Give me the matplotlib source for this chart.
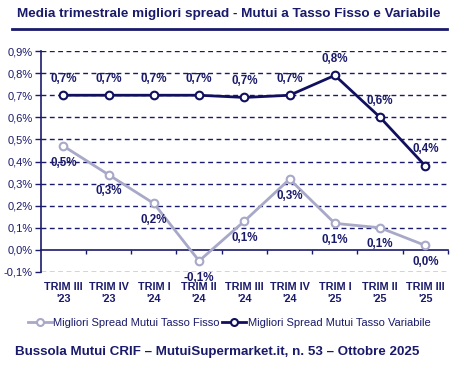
import numpy as np
import matplotlib.pyplot as plt
from matplotlib.lines import Line2D

plt.rcParams['font.family'] = ['Liberation Sans', 'DejaVu Sans']

# dati (in %)
trimestri = ["TRIM III\n'23", "TRIM IV\n'23", "TRIM I\n'24", "TRIM II\n'24", "TRIM III\n'24",
             "TRIM IV\n'24", "TRIM I\n'25", "TRIM II\n'25", "TRIM III\n'25"]
fisso = [0.47, 0.34, 0.21, -0.05, 0.13, 0.32, 0.12, 0.10, 0.02]
variabile = [0.70, 0.70, 0.70, 0.70, 0.69, 0.70, 0.79, 0.60, 0.38]

navy = '#1a1a6b'
c_var = '#10105e'
c_fix = '#a8a8c8'

fig = plt.figure(figsize=(4.58, 3.7), dpi=100)
ax = fig.add_axes([0.089, 0.265, 0.889, 0.597])

x = np.arange(len(trimestri))
ax.plot(x, fisso, color=c_fix, lw=2, marker='o', ms=5.5, mfc='white', mec=c_fix, mew=1.5, zorder=3)
ax.plot(x, variabile, color=c_var, lw=2, marker='o', ms=5.5, mfc='white', mec=c_var, mew=1.5, zorder=4)

# etichette
for i in range(len(x)):
    ax.annotate(f"{fisso[i]:.1f}%".replace('.', ','), (x[i], fisso[i]), xytext=(0, -12),
                textcoords='offset points', ha='center', va='center',
                fontsize=8.4, fontweight='bold', color=navy, zorder=5)
    ax.annotate(f"{variabile[i]:.1f}%".replace('.', ','), (x[i], variabile[i]), xytext=(0, 12),
                textcoords='offset points', ha='center', va='center',
                fontsize=8.4, fontweight='bold', color=navy, zorder=5)

ax.set_xlim(-0.5, len(x) - 0.5)
ax.set_ylim(-0.1, 0.9)
yt = np.arange(-0.1, 0.91, 0.1)
ax.set_yticks(yt)
ax.set_yticklabels([f"{v:.1f}%".replace('.', ',') for v in yt], fontsize=8, color=navy)
for v in yt:
    if abs(v) > 1e-9:
        ax.axhline(v, color=navy, lw=1, ls=(0, (3.5, 2.5)), zorder=1)

for s in ['top', 'right']:
    ax.spines[s].set_visible(False)
ax.spines['left'].set_color(navy)
ax.spines['left'].set_linewidth(1.2)
ax.spines['bottom'].set_position(('data', 0))
ax.spines['bottom'].set_color(navy)
ax.spines['bottom'].set_linewidth(1.2)
ax.tick_params(axis='y', length=4, color=navy, width=1, pad=2)
ax.set_xticks(np.arange(0.5, len(x) - 0.5, 1))
ax.set_xticklabels([])
ax.tick_params(axis='x', length=3, color=navy, width=1, direction='out')
ax.set_xticks([len(x) - 0.5], minor=True)
ax.tick_params(axis='x', which='minor', length=3, color=navy, width=1)

tr = ax.get_xaxis_transform()
for i, t in enumerate(trimestri):
    ax.text(x[i], -0.045, t, transform=tr, ha='center', va='top', fontsize=7.8,
            fontweight='bold', color=navy, linespacing=1.25)

# titolo e linea
fig.text(0.5, 0.962, "Media trimestrale migliori spread - Mutui a Tasso Fisso e Variabile",
         ha='center', va='center', fontsize=9.7, fontweight='bold', color=navy)
fig.add_artist(Line2D([0.026, 0.976], [0.921, 0.921], color=navy, lw=2))

handles = [Line2D([], [], color=c_fix, lw=2, marker='o', ms=5, mfc='white', mec=c_fix, mew=1.5),
           Line2D([], [], color=c_var, lw=2, marker='o', ms=5, mfc='white', mec=c_var, mew=1.5)]
fig.legend(handles, ["Migliori Spread Mutui Tasso Fisso", "Migliori Spread Mutui Tasso Variabile"],
           loc='center', bbox_to_anchor=(0.5, 0.128), ncol=2, frameon=False, fontsize=8,
           labelcolor=navy, handlelength=2.2, handletextpad=0.1, columnspacing=0.2)

fig.text(0.032, 0.048, "Bussola Mutui CRIF \u2013 MutuiSupermarket.it, n. 53 \u2013 Ottobre 2025",
         ha='left', va='center', fontsize=9.6, fontweight='bold', color=navy)

fig.savefig('out.png', dpi=100)
